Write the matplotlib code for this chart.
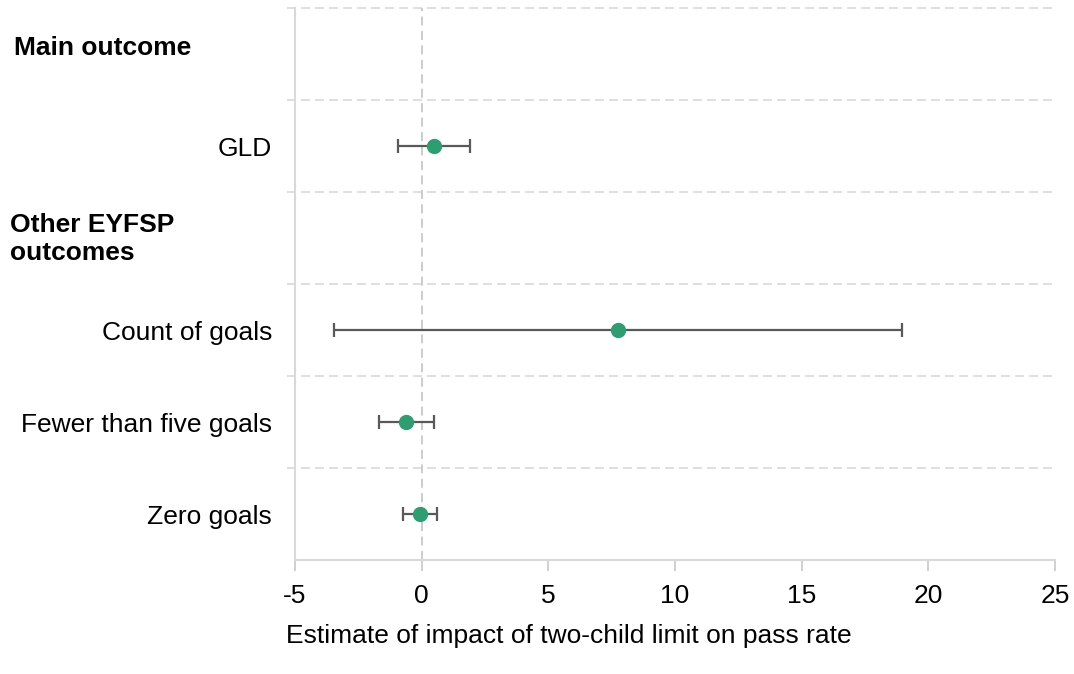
import matplotlib.pyplot as plt
from matplotlib.transforms import blended_transform_factory

plt.rcParams['font.family'] = ['Liberation Sans', 'DejaVu Sans']

# rows from top to bottom; headers have no estimate
rows = ["Main outcome", "GLD", "Other EYFSP\noutcomes", "Count of goals",
        "Fewer than five goals", "Zero goals"]
is_header = [True, False, True, False, False, False]
estimate = [None, 0.47, None, 7.75, -0.6, -0.05]
ci_low = [None, -0.95, None, -3.45, -1.67, -0.72]
ci_high = [None, 1.9, None, 18.95, 0.47, 0.62]
xticks = [-5, 0, 5, 10, 15, 20, 25]

fig = plt.figure(figsize=(10.74, 6.74), dpi=100)
ax = fig.add_axes([295/1074, 1-560/674, 760/1074, 552/674])

n = len(rows)
ypos = [n - 1 - i for i in range(n)]
ax.set_ylim(-0.5, n - 0.5)
ax.set_xlim(-5, 25)

trans = blended_transform_factory(ax.transAxes, ax.transData)
# dashed separators between rows
for b in [i + 0.5 for i in range(n)]:
    ax.plot([-0.01, 1], [b, b], transform=trans, color="#d9d9d9", lw=1.2,
            ls=(0, (5.4, 3)), clip_on=False, zorder=0)
ax.axvline(0, color="#c8c8c8", lw=1.3, ls=(0, (5, 3)), zorder=0)

for y, lab, hd, est, lo, hi in zip(ypos, rows, is_header, estimate, ci_low, ci_high):
    if hd:
        dy = 0.06 if "\n" not in lab else -0.01
        xh = -0.370 if "\n" not in lab else -0.375
        ax.text(xh, y + dy, lab, transform=trans, ha="left", va="center",
                fontsize=19, fontweight="bold", linespacing=1.25)
        continue
    ax.text(-0.03, y - 0.03, lab, transform=trans, ha="right", va="center", fontsize=19)
    ax.errorbar([est], [y], xerr=[[est - lo], [hi - est]], fmt="none",
                ecolor="#595959", elinewidth=1.6, capsize=4.8, capthick=1.6, zorder=2)
    ax.plot([est], [y], "o", color="#2e9e72", ms=10, zorder=3)

ax.set_yticks([])
ax.set_xticks(xticks)
ax.set_xticklabels([str(t) for t in xticks], fontsize=19)
ax.tick_params(axis="x", length=8, color="#c8c8c8", width=1.2, pad=9)
for s in ["top", "right"]:
    ax.spines[s].set_visible(False)
for s in ["left", "bottom"]:
    ax.spines[s].set_color("#d9d9d9")
    ax.spines[s].set_linewidth(1.5)

fig.text(569/1074, 1-636/674, "Estimate of impact of two-child limit on pass rate",
         ha="center", va="center", fontsize=19)

fig.savefig("out.png", dpi=100)
